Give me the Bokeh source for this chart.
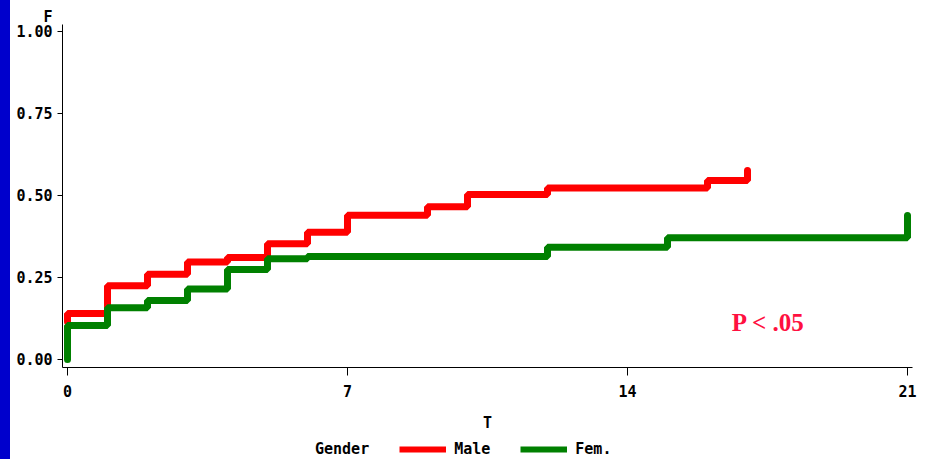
from bokeh.plotting import figure
from bokeh.models import Range1d, FixedTicker, Label, Legend, LegendItem, Div, CustomJSTickFormatter
from bokeh.layouts import row, column
from bokeh.embed import file_html
from bokeh.resources import INLINE

# ---- data (cumulative incidence F by time T) ----
male_t = [0, 0, 1, 2, 3, 4, 5, 6, 7, 9, 10, 12, 16, 17]
male_F = [0.115, 0.14, 0.225, 0.26, 0.297, 0.311, 0.353, 0.388, 0.44, 0.466, 0.503, 0.523, 0.546, 0.576]
fem_t = [0, 0, 1, 2, 3, 4, 5, 6, 12, 15, 21]
fem_F = [0.0, 0.104, 0.158, 0.18, 0.215, 0.274, 0.307, 0.314, 0.342, 0.371, 0.439]
x_ticks = [0, 7, 14, 21]
y_ticks = [0.0, 0.25, 0.5, 0.75, 1.0]
series_labels = ["Male", "Fem."]
legend_title = "Gender"
annotation = "P < .05"

MONO = "DejaVu Sans Mono"
RED = "#FF0000"
GREEN = "#008000"

p = figure(width=916, height=436, output_backend="svg", toolbar_location=None,
           x_range=Range1d(-0.125, 21.125), y_range=Range1d(-0.0244, 1.0213),
           min_border_left=52, min_border_right=14, min_border_top=24, min_border_bottom=69)
p.outline_line_color = None
p.grid.visible = False
p.background_fill_color = "white"
p.border_fill_color = "white"

p.step(male_t, male_F, mode="after", line_color=RED, line_width=7, line_cap="round")
p.step(fem_t, fem_F, mode="after", line_color=GREEN, line_width=7, line_cap="round")

for ax in (p.xaxis[0], p.yaxis[0]):
    ax.axis_line_color = "black"
    ax.major_tick_line_color = "black"
    ax.minor_tick_line_color = None
    ax.major_tick_in = 0
    ax.major_label_text_font = MONO
    ax.major_label_text_font_size = "15px"
    ax.major_label_text_font_style = "bold"
    ax.major_label_text_color = "black"

p.xaxis.ticker = FixedTicker(ticks=x_ticks)
p.xaxis.major_tick_out = 8
p.xaxis.major_label_standoff = 9
p.xaxis.axis_label = "T"
p.xaxis.axis_label_text_font = MONO
p.xaxis.axis_label_text_font_size = "15px"
p.xaxis.axis_label_text_font_style = "bold"
p.xaxis.axis_label_text_color = "black"
p.xaxis.axis_label_standoff = 14

p.yaxis.ticker = FixedTicker(ticks=y_ticks)
p.yaxis.major_tick_out = 5
p.yaxis.major_label_standoff = 5
p.yaxis.formatter = CustomJSTickFormatter(code="return tick.toFixed(2);")

# y-axis label "F" (horizontal, above the axis) via the plot title
p.title.text = "F"
p.title.align = "left"
p.title.offset = -19
p.title.standoff = -3
p.title.text_font = MONO
p.title.text_font_size = "15px"
p.title.text_font_style = "bold"
p.title.text_color = "black"

# P-value annotation
p.add_layout(Label(x=706, y=45, x_units="screen", y_units="screen", text=annotation,
                   text_align="center", text_baseline="middle", text_font="Liberation Serif",
                   text_font_size="25px", text_font_style="bold", text_color="#FF1040"))

# ---- legend strip below the chart (its own renderers lie outside its view) ----
lg = figure(width=916, height=23, output_backend="svg", toolbar_location=None,
            x_range=Range1d(100, 101), y_range=Range1d(100, 101),
            x_axis_location=None, y_axis_location=None, min_border=0)
lg.outline_line_color = None
lg.grid.visible = False
lg.border_fill_color = "white"
lb = lg.line(male_t, male_F, line_alpha=0)
lm = lg.line(male_t, male_F, line_color=RED, line_width=6)
lf = lg.line(fem_t, fem_F, line_color=GREEN, line_width=6)

legend = Legend(items=[LegendItem(label=legend_title, renderers=[lb]),
                       LegendItem(label=series_labels[0], renderers=[lm]),
                       LegendItem(label=series_labels[1], renderers=[lf])],
                orientation="horizontal", location=(198, 0),
                glyph_width=47, glyph_height=20, label_height=20, label_standoff=8, spacing=30,
                padding=0, margin=0, border_line_color=None, background_fill_alpha=0,
                label_text_font=MONO, label_text_font_size="15px", label_text_font_style="bold",
                label_text_color="black", label_text_baseline="middle", click_policy="none")
lg.add_layout(legend, "center")

bar = Div(width=10, height=459, margin=0, styles={"background-color": "#0000CC"})
layout = row(bar, column(p, lg, spacing=0), spacing=0)

open("out.html", "w").write(file_html(layout, INLINE))
